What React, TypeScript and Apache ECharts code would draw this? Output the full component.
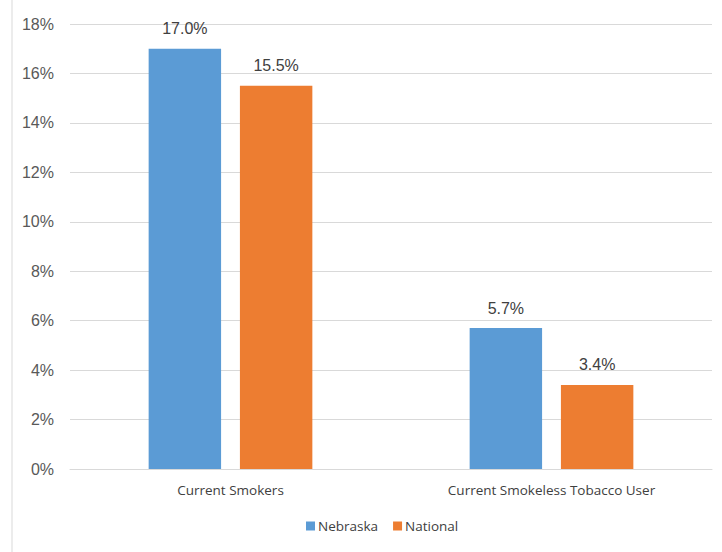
import React, { useEffect, useRef } from "react";
import * as echarts from "echarts";

const categories = ["Current Smokers", "Current Smokeless Tobacco User"];
const nebraska = [17.0, 5.7];
const national = [15.5, 3.4];
const seriesNames = ["Nebraska", "National"];

export default function App() {
  const ref = useRef<HTMLDivElement>(null);
  useEffect(() => {
    const chart = echarts.init(ref.current!, null, { renderer: "svg" });
    const label = {
      show: true,
      position: "top",
      distance: 12,
      color: "#404040",
      fontSize: 16,
      fontFamily: "Liberation Sans, Arial, sans-serif",
      formatter: (p: any) => p.value.toFixed(1) + "%",
    };
    chart.setOption({
      animation: false,
      color: ["#5B9BD5", "#ED7D31"],
      grid: { left: 70, right: 10, top: 24, bottom: 83 },
      legend: {
        data: seriesNames,
        top: 514,
        left: 301,
        itemWidth: 9,
        itemHeight: 9,
        itemGap: 15,
        icon: "rect",
        textStyle: {
          color: "#404040",
          fontSize: 13.5,
          fontFamily: "Open Sans, sans-serif",
          padding: [0, 0, 0, -2],
        },
      },
      xAxis: {
        type: "category",
        data: categories,
        axisLine: { show: true, lineStyle: { color: "#d9d9d9" } },
        axisTick: { show: false },
        axisLabel: { color: "#404040", fontSize: 13.5, margin: 14, fontFamily: "Open Sans, sans-serif" },
      },
      yAxis: {
        type: "value",
        min: 0,
        max: 18,
        interval: 2,
        axisLine: { show: false },
        axisTick: { show: false },
        splitLine: { lineStyle: { color: "#d9d9d9", width: 1 } },
        axisLabel: {
          color: "#595959",
          fontSize: 16,
          margin: 16,
          fontFamily: "Liberation Sans, Arial, sans-serif",
          formatter: (v: number) => v + "%",
        },
      },
      graphic: [
        {
          type: "line",
          shape: { x1: 12, y1: 0, x2: 12, y2: 552 },
          style: { stroke: "#d9d9d9", lineWidth: 1 },
        },
      ],
      series: [
        {
          name: seriesNames[0],
          type: "bar",
          data: nebraska,
          barGap: "26%",
          barCategoryGap: "49%",
          label,
        },
        {
          name: seriesNames[1],
          type: "bar",
          data: national,
          label,
        },
      ],
    });
    return () => chart.dispose();
  }, []);
  return (
    <div
      ref={ref}
      style={{ position: "absolute", left: 0, top: 0, width: 722, height: 552, background: "#fff" }}
    />
  );
}
